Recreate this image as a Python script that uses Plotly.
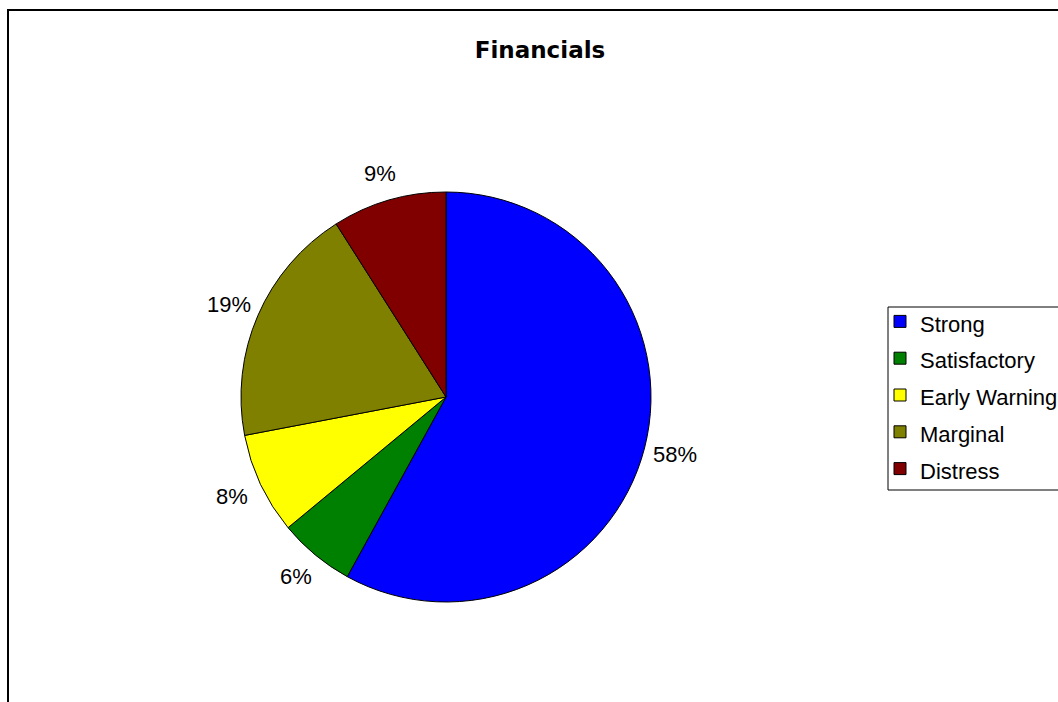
import math
import plotly.graph_objects as go

# Category shares for the financial rating breakdown
categories = ["Strong", "Satisfactory", "Early Warning", "Marginal", "Distress"]
shares = [58, 6, 8, 19, 9]
colors = ["#0000FF", "#008000", "#FFFF00", "#808000", "#800000"]

W, H = 1058, 702
FONT = "Arial, Liberation Sans, sans-serif"

# Pie geometry in pixels (centre and radius) and label ring radii
cx, cy, r = 446, 397, 205
label_rx, label_ry = 236, 233


def px_to_paper(x, y):
    return x / W, 1 - y / H


fig = go.Figure(go.Pie(
    labels=[f"<span style='font-size:22px'>{c}</span>" for c in categories],
    values=shares,
    sort=False,
    direction="clockwise",
    rotation=0,
    marker=dict(colors=colors, line=dict(color="black", width=1)),
    textinfo="none",
    hovertemplate="%{label}: %{percent:.0%}<extra></extra>",
    domain=dict(x=[(cx - r) / W, (cx + r) / W], y=[1 - (cy + r) / H, 1 - (cy - r) / H]),
))

# Percentage labels placed outside each slice at its mid angle
total = sum(shares)
annotations = []
cum = 0
for v in shares:
    mid = (cum + v / 2) / total * 2 * math.pi
    cum += v
    lx = cx + label_rx * math.sin(mid)
    ly = cy - label_ry * math.cos(mid)
    ax, ay = px_to_paper(lx, ly)
    annotations.append(dict(
        x=ax, y=ay, xref="paper", yref="paper", showarrow=False,
        text=f"{round(v / total * 100)}%", xanchor="center", yanchor="middle",
        font=dict(family=FONT, size=22, color="black"),
    ))

fig.update_layout(
    width=W, height=H,
    margin=dict(l=0, r=0, t=0, b=0, autoexpand=False),
    paper_bgcolor="white",
    font=dict(family=FONT, color="black"),
    title=dict(text="<b>Financials</b>", x=540 / W, xanchor="center",
               y=1 - 50 / H, yanchor="middle",
               font=dict(size=23, family="DejaVu Sans, Arial", color="black")),
    legend=dict(x=880 / W, xanchor="left", y=1 - 298 / H, yanchor="top",
                borderwidth=0, bgcolor="rgba(0,0,0,0)",
                font=dict(size=26, family=FONT, color="black")),
    annotations=annotations,
    shapes=[
        # outer chart frame
        dict(type="rect", xref="paper", yref="paper",
             x0=8 / W, x1=1.05, y0=-0.05, y1=1 - 10 / H,
             line=dict(color="black", width=2), layer="below"),
        # legend box
        dict(type="rect", xref="paper", yref="paper",
             x0=888 / W, x1=1.05, y0=1 - 490 / H, y1=1 - 307 / H,
             line=dict(color="black", width=1), fillcolor="white", layer="below"),
    ],
)

fig.write_html("out.html")
